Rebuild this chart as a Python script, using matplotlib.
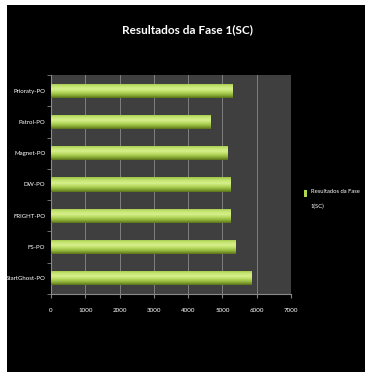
import numpy as np
import matplotlib.pyplot as plt
from matplotlib.patches import Rectangle
from matplotlib.colors import LinearSegmentedColormap

# dados do grafico
categorias = ['StartGhost-PO', 'FS-PO', 'FRIGHT-PO', 'DW-PO', 'Magnet-PO', 'Patrol-PO', 'Prioraty-PO']
valores = [5850, 5370, 5240, 5230, 5150, 4650, 5290]
xticks = [0, 1000, 2000, 3000, 4000, 5000, 6000, 7000]
titulo = 'Resultados da Fase 1(SC)'
legenda = 'Resultados da Fase\n1(SC)'

plt.rcParams['font.family'] = ['Lato', 'DejaVu Sans']

fig = plt.figure(figsize=(3.65, 3.72), dpi=100, facecolor='white')
# fundo preto com borda branca fina em cima e a esquerda
fig.patches.append(Rectangle((7 / 365, 0), 1, 1 - 5 / 372, transform=fig.transFigure,
                             facecolor='black', edgecolor='none', zorder=-1))

ax = fig.add_axes([51 / 365, 1 - 294 / 372, 240 / 365, 219 / 372])
ax.set_facecolor('#3f3f3f')

y = np.arange(len(categorias))
altura = 0.45
barras = ax.barh(y, valores, height=altura, color='#a6cc48', edgecolor='none', zorder=2)

# degradê vertical em cada barra
grad = np.linspace(0, 1, 64).reshape(-1, 1)
cmap = LinearSegmentedColormap.from_list('verde', ['#5a741a', '#8fb238', '#b8da60', '#d6f08c', '#c4e470', '#9cc444'])
for b in barras:
    x0, y0 = b.get_x(), b.get_y()
    w, h = b.get_width(), b.get_height()
    im = ax.imshow(grad, extent=[x0, x0 + w, y0, y0 + h], aspect='auto', cmap=cmap,
                   origin='lower', zorder=3)
    im.set_clip_path(b)

ax.set_xlim(0, 7000)
ax.set_ylim(-0.5, len(categorias) - 0.5)
ax.set_xticks(xticks)
ax.set_xticklabels([str(v) for v in xticks], color='white', fontsize=4.5)
ax.set_yticks(y)
ax.set_yticklabels(categorias, color='white', fontsize=4.4)
ax.set_yticks(np.arange(len(categorias) + 1) - 0.5, minor=True)
ax.tick_params(axis='y', which='major', length=0, pad=4)
ax.tick_params(axis='y', which='minor', length=3, color='#808080')
ax.tick_params(axis='x', length=3, color='#808080', pad=7)
ax.grid(axis='x', color='#8a8a8a', linewidth=0.6, zorder=1)
ax.set_axisbelow(True)
for lado in ['top', 'right']:
    ax.spines[lado].set_visible(False)
for lado in ['left', 'bottom']:
    ax.spines[lado].set_color('#8a8a8a')
    ax.spines[lado].set_linewidth(0.8)

fig.text(187 / 365, 1 - 30 / 372, titulo, color='white', fontsize=8.5,
         fontweight='bold', ha='center', va='center')

# legenda
fig.patches.append(Rectangle((304 / 365, 1 - 197 / 372), 3 / 365, 7 / 372, transform=fig.transFigure,
                             facecolor='#b0d650', edgecolor='none'))
fig.text(311 / 365, 1 - 189 / 372, legenda, color='white', fontsize=4.2,
         ha='left', va='top', linespacing=3.2)

fig.savefig('out.png', dpi=100, facecolor=fig.get_facecolor())
